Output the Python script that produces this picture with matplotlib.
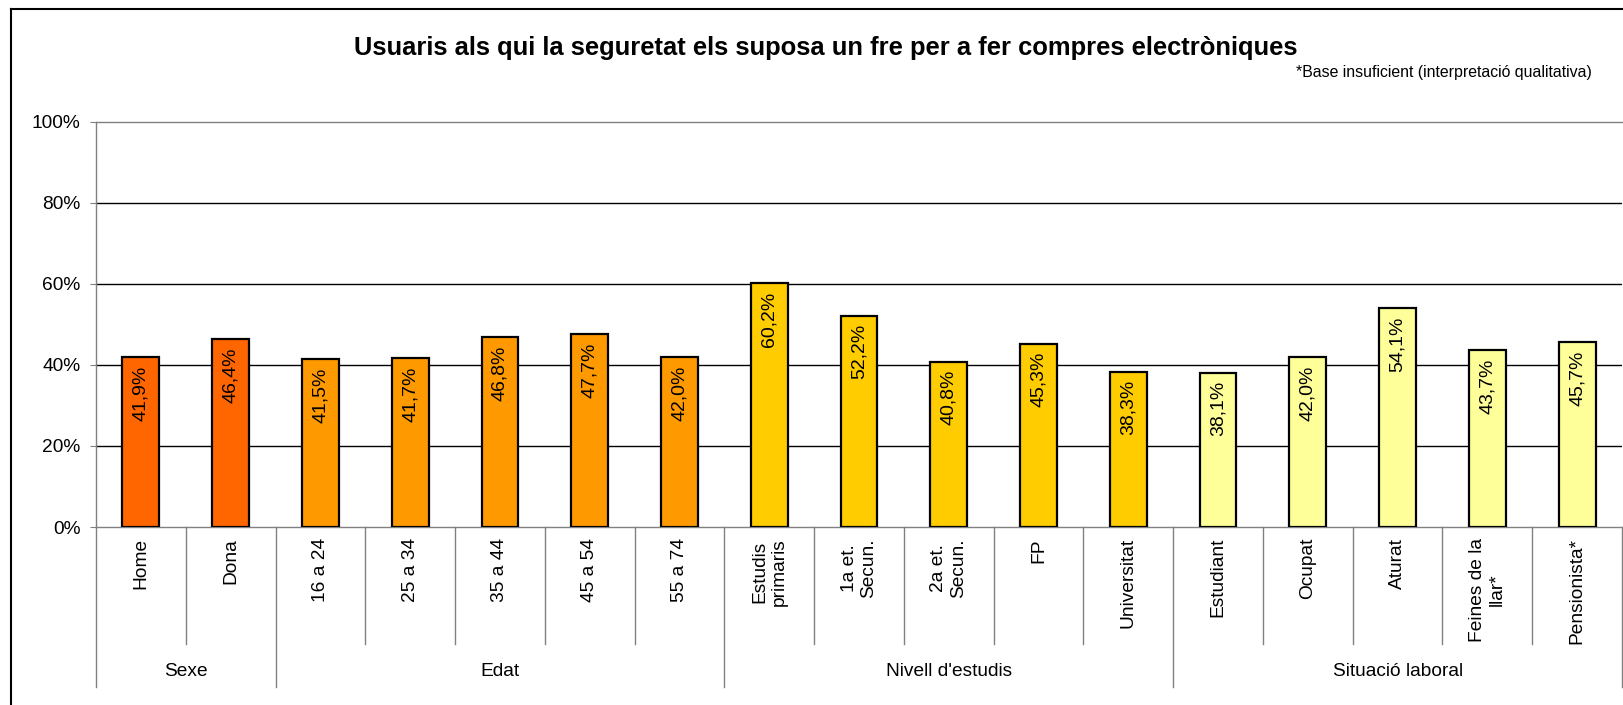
import matplotlib
matplotlib.use("Agg")
import matplotlib.pyplot as plt
from matplotlib.lines import Line2D
import numpy as np

plt.rcParams["font.family"] = ["Liberation Sans", "DejaVu Sans"]

# data
categories = [
    "Home", "Dona",
    "16 a 24", "25 a 34", "35 a 44", "45 a 54", "55 a 74",
    "Estudis\nprimaris", "1a et.\nSecun.", "2a et.\nSecun.", "FP", "Universitat",
    "Estudiant", "Ocupat", "Aturat", "Feines de la\nllar*", "Pensionista*",
]
values = [
    41.9, 46.4,
    41.5, 41.7, 46.8, 47.7, 42.0,
    60.2, 52.2, 40.8, 45.3, 38.3,
    38.1, 42.0, 54.1, 43.7, 45.7,
]
groups = ["Sexe", "Edat", "Nivell d'estudis", "Situació laboral"]
group_sizes = [2, 5, 5, 5]
group_colors = ["#FF6600", "#FF9900", "#FFCC00", "#FFFF99"]
y_ticks = [0, 20, 40, 60, 80, 100]

W, H = 1623, 705
fig = plt.figure(figsize=(W / 100, H / 100), dpi=100)
ax = fig.add_axes([96 / W, 1 - 527 / H, 1526 / W, 405 / H])

colors = []
for size, col in zip(group_sizes, group_colors):
    colors += [col] * size

x = np.arange(len(categories))
ax.bar(x, values, width=0.41, color=colors, edgecolor="black", linewidth=1.6, zorder=3)

# value labels inside the bars, rotated
for xi, v in zip(x, values):
    ax.annotate(f"{v:.1f}%".replace(".", ","), (xi, v), xytext=(0, -6),
                textcoords="offset points", rotation=90, ha="center", va="top",
                fontsize=14, zorder=4)

ax.set_xlim(-0.5, len(categories) - 0.5)
ax.set_ylim(0, 100)
ax.set_yticks(y_ticks)
ax.set_yticklabels([f"{t}%" for t in y_ticks], fontsize=13.8)
ax.tick_params(axis="y", length=4, color="#808080", pad=7)
for t in y_ticks[1:-1]:
    ax.axhline(t, color="black", linewidth=1, zorder=1)

ax.set_xticks(x)
ax.set_xticklabels(categories, rotation=90, fontsize=13.8, va="top", ha="center",
                   multialignment="center")
ax.tick_params(axis="x", length=0, pad=8)

for side in ["left", "top", "bottom", "right"]:
    ax.spines[side].set_color("#808080")
    ax.spines[side].set_linewidth(1)
ax.spines["right"].set_visible(False)

# category separators below axis
trans = ax.get_xaxis_transform()
inner_y = (527 - 644) / 405
outer_y = (527 - 687) / 405
label_y = (527 - 671) / 405
bounds = np.cumsum([0] + group_sizes)
for i in range(len(categories) + 1):
    xb = i - 0.5
    yb = outer_y if i in bounds else inner_y
    ax.plot([xb, xb], [0, yb], transform=trans, color="#808080", linewidth=1,
            clip_on=False)

for g, start, size in zip(groups, bounds[:-1], group_sizes):
    ax.text(start - 0.5 + size / 2, label_y, g, transform=trans, ha="center",
            va="center", fontsize=13.8)

# chart frame (left and top edges)
fig.add_artist(Line2D([11 / W, 11 / W], [0, 1 - 9 / H], color="black", linewidth=1.5))
fig.add_artist(Line2D([11 / W, 1], [1 - 9 / H, 1 - 9 / H], color="black", linewidth=1.5))

fig.text(826 / W, 1 - 48 / H,
         "Usuaris als qui la seguretat els suposa un fre per a fer compres electròniques",
         ha="center", va="center", fontsize=18.4, fontweight="bold")
fig.text(1592 / W, 1 - 73 / H, "*Base insuficient (interpretació qualitativa)",
         ha="right", va="center", fontsize=11.4)

fig.savefig("out.png", dpi=100)
